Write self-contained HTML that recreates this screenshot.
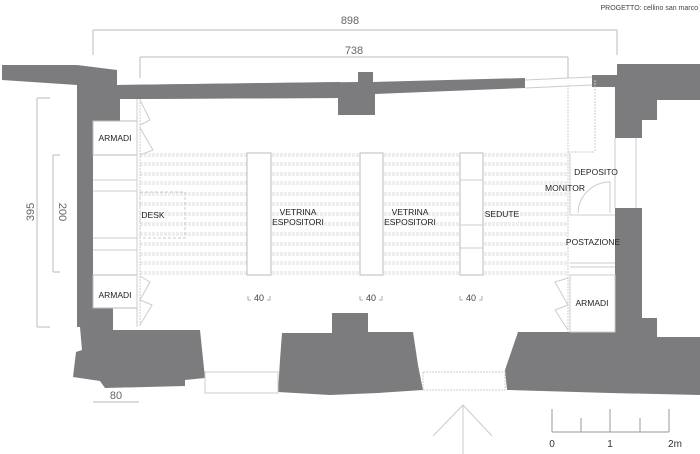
<!DOCTYPE html>
<html><head><meta charset="utf-8"><style>
html,body{margin:0;padding:0;background:#fff;}
svg{display:block;}
text{font-family:"Liberation Sans",sans-serif;}
</style></head><body>
<svg width="700" height="454" viewBox="0 0 700 454" xmlns="http://www.w3.org/2000/svg">
<g fill="#7c7c7e">
<polygon points="2,65 77,65 117,70 117,85 340,82 340,98 120,99 120,121 93,121 93,308 113,308 113,327 77,327 77,85 2,80"/>
<polygon points="117,85 358,82 358,72 373,72 373,82 525,78 525,88 375,94 375,115 338,115 338,98 117,99"/>
<polygon points="80,327 113,327 113,330 200,330 205,378 185,380 185,386 105,388 100,381 73,377 76,352 82,350"/>
<polygon points="282,333 332,333 332,313 368,313 368,332 413,332 418,365 423,390 378,393 330,395 278,392 280,360"/>
<polygon points="518,332 615,332 615,208 642,208 642,318 657,318 657,337 700,337 700,395 610,393 507,390 505,370"/>
<polygon points="592,75 617,75 617,64 700,64 700,100 657,100 657,120 642,120 642,138 615,138 615,87 592,87"/>
</g>
<line x1="525" y1="80" x2="592" y2="77" stroke="#ccc" stroke-width="1"/>
<line x1="525" y1="88" x2="592" y2="85" stroke="#ccc" stroke-width="1"/>
<g fill="none" stroke="#ccc" stroke-width="1">
<rect x="205" y="372" width="73" height="21"/>
<rect x="423" y="372" width="82" height="18" stroke-dasharray="2,1"/>
<line x1="636" y1="138" x2="636" y2="208"/>
<line x1="615" y1="138" x2="615" y2="208"/>
</g>
<g stroke="#bbb" stroke-width="1" fill="none">
<line x1="93" y1="30" x2="617" y2="30"/>
<line x1="93" y1="30" x2="93" y2="55"/>
<line x1="617" y1="30" x2="617" y2="55"/>
<line x1="140" y1="57" x2="568" y2="57"/>
<line x1="140" y1="57" x2="140" y2="78"/>
<line x1="568" y1="57" x2="568" y2="78"/>
<line x1="37" y1="98" x2="37" y2="327"/>
<line x1="37" y1="98" x2="50" y2="98"/>
<line x1="37" y1="327" x2="50" y2="327"/>
<line x1="53" y1="155" x2="53" y2="272"/>
<line x1="53" y1="155" x2="60" y2="155"/>
<line x1="53" y1="272" x2="60" y2="272"/>
<line x1="93" y1="402" x2="139" y2="402"/>
</g>
<g fill="#666" font-size="11">
<text x="350" y="24" text-anchor="middle">898</text>
<text x="354" y="54" text-anchor="middle">738</text>
<text x="116" y="399" text-anchor="middle">80</text>
<text transform="translate(34,212) rotate(-90)" text-anchor="middle">395</text>
<text transform="translate(59,212) rotate(90)" text-anchor="middle">200</text>
</g>
<text x="698" y="10" font-size="7" fill="#444" text-anchor="end">PROGETTO: cellino san marco</text>
<g stroke="#dcdcdc" stroke-width="1" stroke-dasharray="3,1">
<line x1="140" y1="154" x2="568" y2="154"/><line x1="140" y1="156" x2="568" y2="156"/>
<line x1="140" y1="163" x2="568" y2="163"/><line x1="140" y1="165" x2="568" y2="165"/>
<line x1="140" y1="173" x2="568" y2="173"/><line x1="140" y1="175" x2="568" y2="175"/>
<line x1="140" y1="182" x2="568" y2="182"/><line x1="140" y1="184" x2="568" y2="184"/>
<line x1="140" y1="193" x2="568" y2="193"/><line x1="140" y1="195" x2="568" y2="195"/>
<line x1="140" y1="203" x2="568" y2="203"/><line x1="140" y1="205" x2="568" y2="205"/>
<line x1="140" y1="213" x2="568" y2="213"/><line x1="140" y1="215" x2="568" y2="215"/>
<line x1="140" y1="223" x2="568" y2="223"/><line x1="140" y1="225" x2="568" y2="225"/>
<line x1="140" y1="233" x2="568" y2="233"/><line x1="140" y1="235" x2="568" y2="235"/>
<line x1="140" y1="243" x2="568" y2="243"/><line x1="140" y1="245" x2="568" y2="245"/>
<line x1="140" y1="253" x2="568" y2="253"/><line x1="140" y1="255" x2="568" y2="255"/>
<line x1="140" y1="262" x2="568" y2="262"/><line x1="140" y1="264" x2="568" y2="264"/>
<line x1="140" y1="272" x2="568" y2="272"/><line x1="140" y1="274" x2="568" y2="274"/>
</g>
<g fill="#fff" stroke="#bbb" stroke-width="1">
<rect x="247" y="153" width="24" height="122"/>
<rect x="360" y="153" width="23" height="122"/>
<rect x="460" y="153" width="23" height="122"/>
</g>
<g stroke="#ccc" stroke-width="1">
<line x1="460" y1="180" x2="483" y2="180"/><line x1="460" y1="225" x2="483" y2="225"/><line x1="460" y1="248" x2="483" y2="248"/>
</g>
<g fill="#fff" stroke="#bbb" stroke-width="1">
<rect x="93" y="121" width="44" height="34"/>
<rect x="93" y="275" width="44" height="33"/>
</g>
<g stroke="#ccc" stroke-width="1" fill="none">
<line x1="93" y1="180" x2="137" y2="180"/>
<line x1="93" y1="191" x2="137" y2="191"/>
<line x1="93" y1="238" x2="137" y2="238"/>
<line x1="93" y1="250" x2="137" y2="250"/>
<line x1="137" y1="99" x2="137" y2="327"/>
<line x1="140" y1="99" x2="140" y2="327" stroke-dasharray="2,1"/>
<rect x="140" y="192" width="45" height="46" stroke-dasharray="3,2"/>
<polyline points="140,100 150,120 140,125"/>
<polyline points="140,128 153,150 140,155"/>
<polyline points="140,276 150,282 140,300"/>
<polyline points="140,300 152,305 140,325"/>
<line x1="568" y1="85" x2="568" y2="332" stroke-dasharray="2,1"/>
<line x1="595" y1="80" x2="595" y2="152" stroke-dasharray="2,1"/>
<line x1="568" y1="152" x2="595" y2="152" stroke-dasharray="2,1"/>
<line x1="570" y1="153" x2="570" y2="215"/>
<line x1="570" y1="215" x2="615" y2="215"/>
<line x1="570" y1="263" x2="615" y2="263"/>
<line x1="570" y1="267" x2="615" y2="267"/>
<rect x="570" y="275" width="45" height="57"/>
<path d="M578,213 A32,32 0 0 1 610,182 L610,213"/>
<polyline points="568,278 555,282 568,305"/>
<polyline points="568,305 555,310 568,330"/>
</g>
<g font-size="8.5" fill="#222" text-anchor="middle">
<text x="115" y="141">ARMADI</text>
<text x="115" y="298">ARMADI</text>
<text x="153" y="218">DESK</text>
<text x="298" y="215">VETRINA</text>
<text x="298" y="225">ESPOSITORI</text>
<text x="410" y="215">VETRINA</text>
<text x="410" y="225">ESPOSITORI</text>
<text x="502" y="217">SEDUTE</text>
<text x="596" y="175">DEPOSITO</text>
<text x="565" y="191">MONITOR</text>
<text x="593" y="245">POSTAZIONE</text>
<text x="592" y="306">ARMADI</text>
</g>
<g font-size="9" fill="#444" text-anchor="middle">
<text x="259" y="301">40</text>
<text x="371" y="301">40</text>
<text x="471" y="301">40</text>
</g>
<g stroke="#999" stroke-width="0.8" fill="none">
<polyline points="248,296 248,300 251,300"/><polyline points="270,296 270,300 267,300"/>
<polyline points="360,296 360,300 363,300"/><polyline points="382,296 382,300 379,300"/>
<polyline points="460,296 460,300 463,300"/><polyline points="482,296 482,300 479,300"/>
</g>
<g stroke="#ccc" stroke-width="1" fill="none">
<line x1="463" y1="405" x2="463" y2="454"/>
<line x1="463" y1="405" x2="433" y2="436"/>
<line x1="463" y1="405" x2="492" y2="436"/>
</g>
<g stroke="#999" stroke-width="1">
<line x1="552" y1="432" x2="669" y2="432"/>
<line x1="552" y1="409" x2="552" y2="432"/>
<line x1="581" y1="418" x2="581" y2="432"/>
<line x1="610" y1="409" x2="610" y2="432"/>
<line x1="640" y1="418" x2="640" y2="432"/>
<line x1="669" y1="409" x2="669" y2="432"/>
</g>
<g font-size="10" fill="#333" text-anchor="middle">
<text x="552" y="447">0</text>
<text x="610" y="447">1</text>
<text x="675" y="447">2m</text>
</g>
</svg>
</body></html>
